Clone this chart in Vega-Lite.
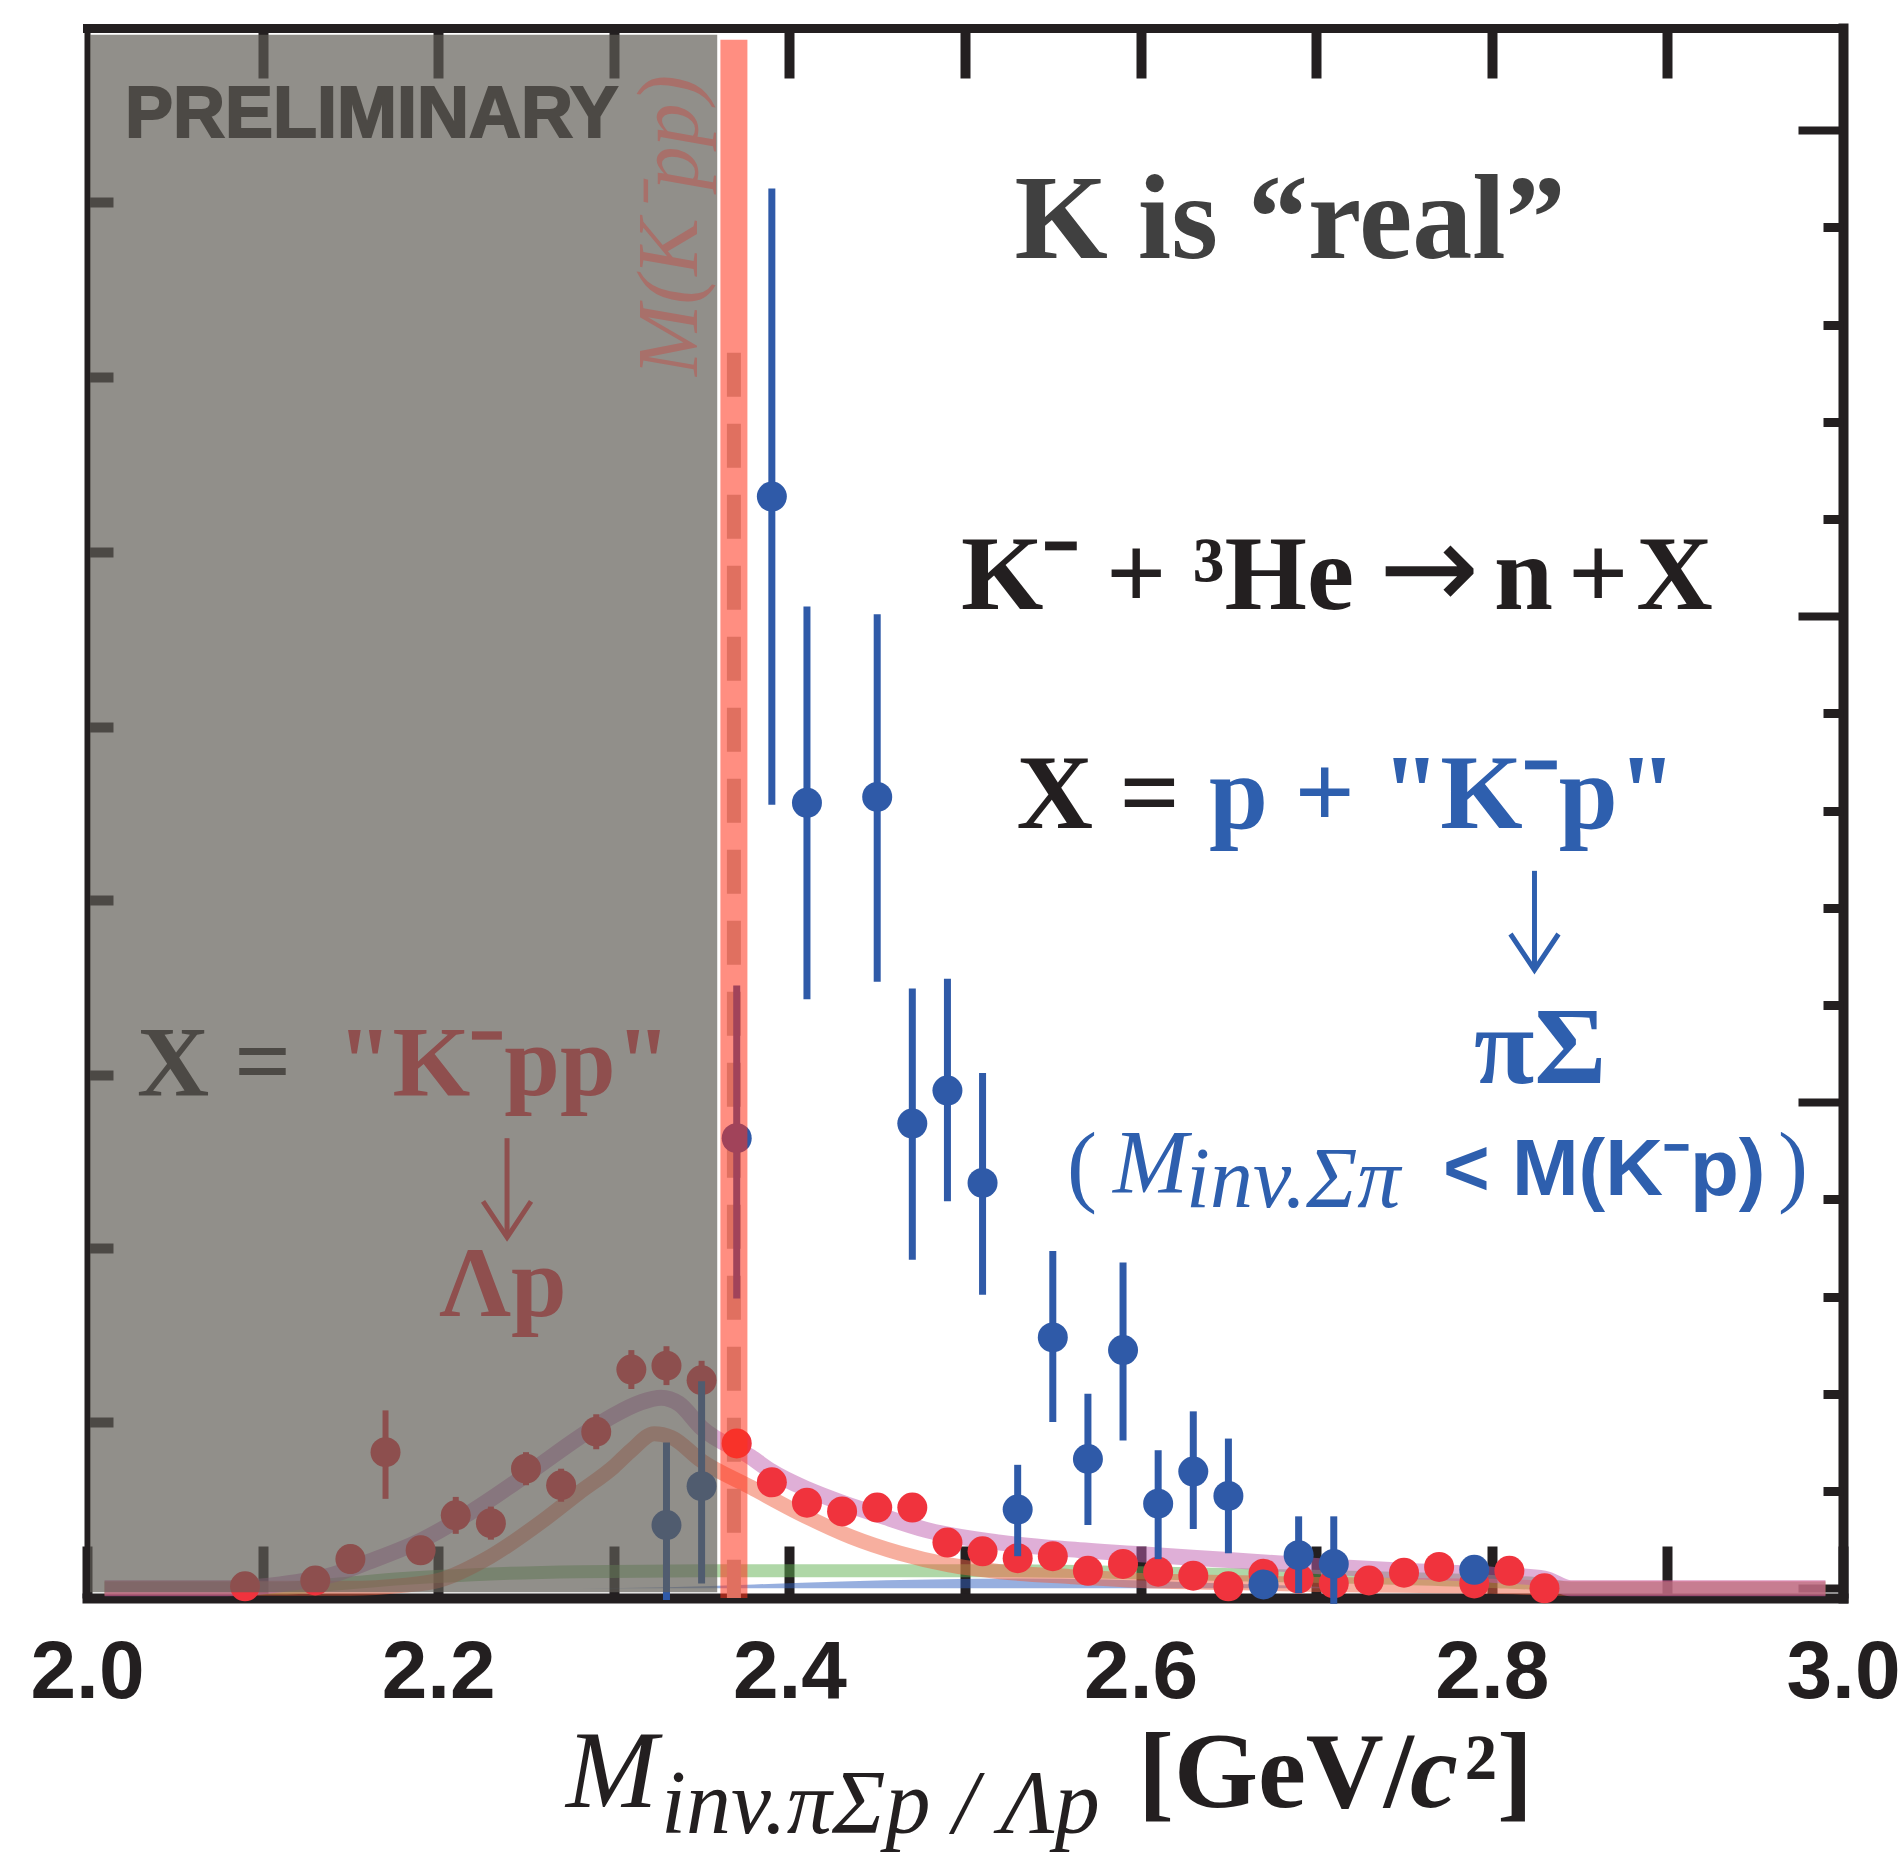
{
  "$schema": "https://vega.github.io/schema/vega-lite/v6.json",
  "width": 1756,
  "height": 1570,
  "autosize": {"type": "none"},
  "padding": {"left": 87, "top": 28, "right": 59, "bottom": 258},
  "background": "white",
  "config": {"view": {"stroke": null}},
  "resolve": {"axis": {"x": "independent", "y": "independent"}},
  "datasets": {
    "blue": [
      {"m": 2.33, "n": 0.65, "lo": -0.12, "hi": 1.5},
      {"m": 2.35, "n": 1.05, "lo": 0.05, "hi": 2.13},
      {"m": 2.37, "n": 4.63, "lo": 2.98, "hi": 6.2},
      {"m": 2.39, "n": 11.23, "lo": 8.06, "hi": 14.4},
      {"m": 2.41, "n": 8.08, "lo": 6.06, "hi": 10.1},
      {"m": 2.45, "n": 8.14, "lo": 6.24, "hi": 10.02},
      {"m": 2.47, "n": 4.78, "lo": 3.38, "hi": 6.17},
      {"m": 2.49, "n": 5.12, "lo": 3.98, "hi": 6.27},
      {"m": 2.51, "n": 4.17, "lo": 3.02, "hi": 5.3},
      {"m": 2.53, "n": 0.81, "lo": 0.33, "hi": 1.27},
      {"m": 2.55, "n": 2.58, "lo": 1.71, "hi": 3.47},
      {"m": 2.57, "n": 1.33, "lo": 0.65, "hi": 2.0},
      {"m": 2.59, "n": 2.45, "lo": 1.52, "hi": 3.35},
      {"m": 2.61, "n": 0.87, "lo": 0.3, "hi": 1.42},
      {"m": 2.63, "n": 1.2, "lo": 0.61, "hi": 1.82},
      {"m": 2.65, "n": 0.95, "lo": 0.36, "hi": 1.54},
      {"m": 2.67, "n": 0.04, "lo": 0.0, "hi": 0.1},
      {"m": 2.69, "n": 0.34, "lo": -0.05, "hi": 0.74},
      {"m": 2.71, "n": 0.25, "lo": -0.16, "hi": 0.74},
      {"m": 2.79, "n": 0.19, "lo": 0.1, "hi": 0.28}
    ],
    "red": [
      {"m": 2.09, "n": 0.02, "lo": -0.1, "hi": 0.14},
      {"m": 2.13, "n": 0.08, "lo": -0.06, "hi": 0.2},
      {"m": 2.15, "n": 0.3, "lo": 0.15, "hi": 0.45},
      {"m": 2.17, "n": 1.4, "lo": 0.92, "hi": 1.83},
      {"m": 2.19, "n": 0.39, "lo": 0.24, "hi": 0.54},
      {"m": 2.21, "n": 0.75, "lo": 0.56, "hi": 0.94},
      {"m": 2.23, "n": 0.67, "lo": 0.5, "hi": 0.84},
      {"m": 2.25, "n": 1.23, "lo": 1.06, "hi": 1.4},
      {"m": 2.27, "n": 1.06, "lo": 0.89, "hi": 1.23},
      {"m": 2.29, "n": 1.61, "lo": 1.43, "hi": 1.79},
      {"m": 2.31, "n": 2.25, "lo": 2.05, "hi": 2.45},
      {"m": 2.33, "n": 2.29, "lo": 2.09, "hi": 2.49},
      {"m": 2.35, "n": 2.14, "lo": 1.94, "hi": 2.34},
      {"m": 2.37, "n": 1.49, "lo": 1.39, "hi": 1.59},
      {"m": 2.39, "n": 1.09, "lo": 0.99, "hi": 1.19},
      {"m": 2.41, "n": 0.88, "lo": 0.78, "hi": 0.98},
      {"m": 2.43, "n": 0.79, "lo": 0.7, "hi": 0.88},
      {"m": 2.45, "n": 0.83, "lo": 0.74, "hi": 0.92},
      {"m": 2.47, "n": 0.83, "lo": 0.74, "hi": 0.92},
      {"m": 2.49, "n": 0.47, "lo": 0.39, "hi": 0.55},
      {"m": 2.51, "n": 0.38, "lo": 0.3, "hi": 0.46},
      {"m": 2.53, "n": 0.31, "lo": 0.23, "hi": 0.39},
      {"m": 2.55, "n": 0.33, "lo": 0.25, "hi": 0.41},
      {"m": 2.57, "n": 0.18, "lo": 0.1, "hi": 0.26},
      {"m": 2.59, "n": 0.25, "lo": 0.17, "hi": 0.33},
      {"m": 2.61, "n": 0.17, "lo": 0.1, "hi": 0.24},
      {"m": 2.63, "n": 0.13, "lo": 0.06, "hi": 0.2},
      {"m": 2.65, "n": 0.02, "lo": -0.05, "hi": 0.09},
      {"m": 2.67, "n": 0.15, "lo": 0.08, "hi": 0.22},
      {"m": 2.69, "n": 0.1, "lo": 0.03, "hi": 0.17},
      {"m": 2.71, "n": 0.05, "lo": -0.02, "hi": 0.12},
      {"m": 2.73, "n": 0.08, "lo": 0.01, "hi": 0.15},
      {"m": 2.75, "n": 0.16, "lo": 0.09, "hi": 0.23},
      {"m": 2.77, "n": 0.22, "lo": 0.15, "hi": 0.29},
      {"m": 2.79, "n": 0.05, "lo": -0.02, "hi": 0.12},
      {"m": 2.81, "n": 0.18, "lo": 0.11, "hi": 0.25},
      {"m": 2.83, "n": 0.0, "lo": -0.07, "hi": 0.07}
    ],
    "pink": [
      {"m": 2.01, "n": 0}, {"m": 2.08, "n": 0}, {"m": 2.11, "n": 0.04}, {"m": 2.14, "n": 0.14},
      {"m": 2.16, "n": 0.27}, {"m": 2.19, "n": 0.49}, {"m": 2.22, "n": 0.8}, {"m": 2.255, "n": 1.23},
      {"m": 2.28, "n": 1.55}, {"m": 2.3, "n": 1.78}, {"m": 2.315, "n": 1.91}, {"m": 2.327, "n": 1.96},
      {"m": 2.337, "n": 1.9}, {"m": 2.35, "n": 1.65}, {"m": 2.378, "n": 1.35}, {"m": 2.39, "n": 1.2},
      {"m": 2.41, "n": 1.02}, {"m": 2.43, "n": 0.88}, {"m": 2.45, "n": 0.76}, {"m": 2.478, "n": 0.6},
      {"m": 2.52, "n": 0.47}, {"m": 2.56, "n": 0.4}, {"m": 2.6, "n": 0.35}, {"m": 2.65, "n": 0.29},
      {"m": 2.7, "n": 0.23}, {"m": 2.75, "n": 0.18}, {"m": 2.8, "n": 0.14}, {"m": 2.83, "n": 0.1},
      {"m": 2.845, "n": 0}, {"m": 2.99, "n": 0}
    ],
    "orange": [
      {"m": 2.01, "n": 0}, {"m": 2.15, "n": 0}, {"m": 2.18, "n": 0.03}, {"m": 2.2, "n": 0.08},
      {"m": 2.23, "n": 0.33}, {"m": 2.26, "n": 0.7}, {"m": 2.28, "n": 0.98}, {"m": 2.3, "n": 1.25},
      {"m": 2.31, "n": 1.42}, {"m": 2.323, "n": 1.59}, {"m": 2.333, "n": 1.55}, {"m": 2.35, "n": 1.31},
      {"m": 2.378, "n": 1.04}, {"m": 2.406, "n": 0.77}, {"m": 2.435, "n": 0.53}, {"m": 2.463, "n": 0.36},
      {"m": 2.491, "n": 0.24}, {"m": 2.52, "n": 0.17}, {"m": 2.56, "n": 0.12}, {"m": 2.6, "n": 0.08},
      {"m": 2.65, "n": 0.06}, {"m": 2.7, "n": 0.04}, {"m": 2.75, "n": 0.03}, {"m": 2.8, "n": 0.02},
      {"m": 2.845, "n": 0}, {"m": 2.99, "n": 0}
    ],
    "green": [
      {"m": 2.01, "n": 0}, {"m": 2.11, "n": 0}, {"m": 2.14, "n": 0.04}, {"m": 2.18, "n": 0.1},
      {"m": 2.22, "n": 0.14}, {"m": 2.28, "n": 0.17}, {"m": 2.35, "n": 0.18}, {"m": 2.45, "n": 0.18},
      {"m": 2.52, "n": 0.18}, {"m": 2.6, "n": 0.16}, {"m": 2.68, "n": 0.13}, {"m": 2.75, "n": 0.1},
      {"m": 2.8, "n": 0.07}, {"m": 2.83, "n": 0.04}, {"m": 2.845, "n": 0}, {"m": 2.99, "n": 0}
    ],
    "bluefit": [
      {"m": 2.28, "n": 0}, {"m": 2.33, "n": 0.01}, {"m": 2.38, "n": 0.04}, {"m": 2.43, "n": 0.07},
      {"m": 2.48, "n": 0.09}, {"m": 2.53, "n": 0.1}, {"m": 2.58, "n": 0.09}, {"m": 2.63, "n": 0.06},
      {"m": 2.68, "n": 0.03}, {"m": 2.72, "n": 0}
    ]
  },
  "layer": [
    {
      "data": {"name": "bluefit"},
      "mark": {"type": "area", "color": "#3060c0", "opacity": 0.5, "interpolate": "monotone"},
      "encoding": {
        "x": {"field": "m", "type": "quantitative", "axis": null, "scale": {"domain": [2, 3], "nice": false, "zero": false}},
        "y": {"field": "n", "type": "quantitative", "axis": null, "scale": {"domain": [-0.1, 16.05], "nice": false, "zero": false}},
        "y2": {"datum": 0}
      }
    },
    {
      "data": {"name": "green"},
      "mark": {"type": "line", "color": "#60b050", "strokeWidth": 13, "opacity": 0.5, "interpolate": "monotone", "strokeCap": "butt"},
      "encoding": {
        "x": {"field": "m", "type": "quantitative", "axis": null},
        "y": {"field": "n", "type": "quantitative", "axis": null}
      }
    },
    {
      "data": {"name": "orange"},
      "mark": {"type": "line", "color": "#f06040", "strokeWidth": 15, "opacity": 0.5, "interpolate": "monotone", "strokeCap": "butt"},
      "encoding": {
        "x": {"field": "m", "type": "quantitative", "axis": null},
        "y": {"field": "n", "type": "quantitative", "axis": null}
      }
    },
    {
      "data": {"name": "pink"},
      "mark": {"type": "line", "color": "#c060b0", "strokeWidth": 16, "opacity": 0.5, "interpolate": "monotone", "strokeCap": "butt"},
      "encoding": {
        "x": {"field": "m", "type": "quantitative", "axis": null},
        "y": {"field": "n", "type": "quantitative", "axis": null}
      }
    },
    {
      "data": {"values": [{}]},
      "mark": {"type": "rule", "color": "#bbbcb7", "strokeWidth": 14, "strokeDash": [44, 27], "strokeCap": "butt"},
      "encoding": {
        "x": {"datum": 2.3684, "type": "quantitative", "axis": null},
        "y": {"datum": 12.71, "type": "quantitative", "axis": null},
        "y2": {"datum": -0.1}
      }
    },
    {
      "data": {"name": "red"},
      "mark": {"type": "rule", "color": "#f0333d", "strokeWidth": 6},
      "encoding": {
        "x": {"field": "m", "type": "quantitative", "axis": null},
        "y": {"field": "lo", "type": "quantitative", "axis": null},
        "y2": {"field": "hi"}
      }
    },
    {
      "data": {"name": "red"},
      "mark": {"type": "circle", "color": "#f0333d", "size": 900, "opacity": 1},
      "encoding": {
        "x": {"field": "m", "type": "quantitative", "axis": null},
        "y": {"field": "n", "type": "quantitative", "axis": {"orient": "left", "values": [1.71, 3.5, 5.28, 7.08, 8.86, 10.66, 12.46, 14.26], "labels": false, "grid": false, "title": null, "tickSize": -26, "tickWidth": 10, "tickColor": "#231f20", "domainWidth": 6, "domainColor": "#231f20", "domainCap": "square"}}
      }
    },
    {
      "data": {"name": "blue"},
      "mark": {"type": "rule", "color": "#2f5aa8", "strokeWidth": 7},
      "encoding": {
        "x": {"field": "m", "type": "quantitative", "scale": {"domain": [2, 3], "nice": false, "zero": false},
              "axis": {"orient": "bottom", "values": [2.0, 2.1, 2.2, 2.3, 2.4, 2.5, 2.6, 2.7, 2.8, 2.9, 3.0],
                       "labelExpr": "round(datum.value*10) % 2 == 0 ? format(datum.value, '.1f') : ''",
                       "tickSize": -52, "tickWidth": 10, "tickColor": "#231f20",
                       "domainWidth": 10, "domainColor": "#231f20", "domainCap": "square",
                       "labelFont": "Liberation Sans", "labelFontWeight": "bold", "labelFontSize": 82, "labelColor": "#231f20",
                       "labelPadding": 86, "labelFlush": false, "labelOverlap": false, "labelBound": false,
                       "grid": false, "title": null}},
        "y": {"field": "lo", "type": "quantitative", "scale": {"domain": [-0.1, 16.05], "nice": false, "zero": false},
              "axis": {"orient": "right", "values": [0, 5, 10, 15], "labels": false, "grid": false, "title": null, "tickSize": -45, "tickWidth": 8, "tickColor": "#231f20", "domainWidth": 10, "domainColor": "#231f20", "domainCap": "square"}},
        "y2": {"field": "hi"}
      }
    },
    {
      "data": {"name": "blue"},
      "mark": {"type": "circle", "color": "#2f5aa8", "size": 900, "opacity": 1},
      "encoding": {
        "x": {"field": "m", "type": "quantitative",
              "axis": {"orient": "top", "values": [2.1, 2.2, 2.3, 2.4, 2.5, 2.6, 2.7, 2.8, 2.9], "labels": false, "grid": false, "title": null, "tickSize": -50, "tickWidth": 10, "tickColor": "#231f20", "domainWidth": 9, "domainColor": "#231f20", "domainCap": "square"}},
        "y": {"field": "n", "type": "quantitative",
              "axis": {"orient": "right", "values": [1, 2, 3, 4, 6, 7, 8, 9, 11, 12, 13, 14], "labels": false, "grid": false, "title": null, "tickSize": -20, "tickWidth": 9, "tickColor": "#231f20", "domain": false}}
      }
    },
    {
      "data": {"values": [{}]},
      "mark": {"type": "text", "text": "PRELIMINARY", "font": "Liberation Sans", "fontWeight": "bold", "fontSize": 72, "color": "#231f20", "stroke": "#231f20", "strokeWidth": 2, "align": "left", "baseline": "alphabetic"},
      "encoding": {"x": {"datum": 2.0216, "type": "quantitative", "axis": null}, "y": {"datum": 14.93, "type": "quantitative", "axis": null}}
    },
    {
      "data": {"values": [{}]},
      "mark": {"type": "text", "text": "X =", "font": "Liberation Serif", "fontWeight": "bold", "fontSize": 100, "color": "#231f20", "align": "left", "baseline": "alphabetic"},
      "encoding": {"x": {"datum": 2.0285, "type": "quantitative", "axis": null}, "y": {"datum": 5.07, "type": "quantitative", "axis": null}}
    },
    {
      "data": {"values": [{}]},
      "mark": {"type": "text", "text": "\"K⁻pp\"", "font": "Liberation Serif", "fontWeight": "bold", "fontSize": 100, "color": "#f8303f", "align": "left", "baseline": "alphabetic"},
      "encoding": {"x": {"datum": 2.1424, "type": "quantitative", "axis": null}, "y": {"datum": 5.07, "type": "quantitative", "axis": null}}
    },
    {
      "data": {"values": [{}]},
      "mark": {"type": "rule", "color": "#f8303f", "strokeWidth": 5},
      "encoding": {"x": {"datum": 2.2392, "type": "quantitative", "axis": null}, "y": {"datum": 4.63, "type": "quantitative", "axis": null}, "y2": {"datum": 3.64}}
    },
    {
      "data": {"values": [{}]},
      "mark": {"type": "point", "shape": "M-1,-1.5L0,0L1,-1.5", "size": 2304, "filled": false, "strokeWidth": 5, "color": "#f8303f", "opacity": 1, "strokeJoin": "miter"},
      "encoding": {"x": {"datum": 2.2392, "type": "quantitative", "axis": null}, "y": {"datum": 3.61, "type": "quantitative", "axis": null}}
    },
    {
      "data": {"values": [{}]},
      "mark": {"type": "text", "text": "Λp", "font": "Liberation Serif", "fontWeight": "bold", "fontSize": 100, "color": "#f8303f", "align": "center", "baseline": "alphabetic"},
      "encoding": {"x": {"datum": 2.2369, "type": "quantitative", "axis": null}, "y": {"datum": 2.8, "type": "quantitative", "axis": null}}
    },
    {
      "data": {"values": [{}]},
      "mark": {"type": "rect", "color": "#5f5d56", "opacity": 0.69},
      "encoding": {
        "x": {"datum": 2.0017, "type": "quantitative", "axis": null}, "x2": {"datum": 2.3589},
        "y": {"datum": -0.04, "type": "quantitative", "axis": null}, "y2": {"datum": 15.98}
      }
    },
    {
      "data": {"values": [{}]},
      "mark": {"type": "rule", "color": "#ff3219", "opacity": 0.55, "strokeWidth": 27, "strokeCap": "butt"},
      "encoding": {
        "x": {"datum": 2.3684, "type": "quantitative", "axis": null},
        "y": {"datum": 15.93, "type": "quantitative", "axis": null}, "y2": {"datum": -0.1}
      }
    },
    {
      "data": {"values": [{}]},
      "mark": {"type": "text", "text": "M(K⁻pp)", "font": "Liberation Serif", "fontStyle": "italic", "fontSize": 86, "color": "#a8706a", "align": "left", "baseline": "alphabetic", "angle": 270},
      "encoding": {"x": {"datum": 2.3474, "type": "quantitative", "axis": null}, "y": {"datum": 12.47, "type": "quantitative", "axis": null}}
    },
    {
      "data": {"values": [{}]},
      "mark": {"type": "text", "text": "K is “real”", "font": "Liberation Serif", "fontWeight": "bold", "fontSize": 120, "color": "#404040", "align": "center", "baseline": "alphabetic"},
      "encoding": {"x": {"datum": 2.6851, "type": "quantitative", "axis": null}, "y": {"datum": 13.68, "type": "quantitative", "axis": null}}
    },
    {
      "data": {"values": [{}]},
      "mark": {"type": "text", "text": "K⁻ + ³He", "font": "Liberation Serif", "fontWeight": "bold", "fontSize": 106, "color": "#231f20", "align": "left", "baseline": "alphabetic"},
      "encoding": {"x": {"datum": 2.4977, "type": "quantitative", "axis": null}, "y": {"datum": 10.07, "type": "quantitative", "axis": null}}
    },
    {
      "data": {"values": [{}]},
      "mark": {"type": "text", "text": "→", "font": "DejaVu Sans", "fontSize": 120, "color": "#231f20", "align": "center", "baseline": "alphabetic"},
      "encoding": {"x": {"datum": 2.7642, "type": "quantitative", "axis": null}, "y": {"datum": 10.07, "type": "quantitative", "axis": null}}
    },
    {
      "data": {"values": [{}]},
      "mark": {"type": "text", "text": "n", "font": "Liberation Serif", "fontWeight": "bold", "fontSize": 106, "color": "#231f20", "align": "left", "baseline": "alphabetic"},
      "encoding": {"x": {"datum": 2.8012, "type": "quantitative", "axis": null}, "y": {"datum": 10.07, "type": "quantitative", "axis": null}}
    },
    {
      "data": {"values": [{}]},
      "mark": {"type": "text", "text": "+", "font": "Liberation Serif", "fontWeight": "bold", "fontSize": 106, "color": "#231f20", "align": "left", "baseline": "alphabetic"},
      "encoding": {"x": {"datum": 2.8434, "type": "quantitative", "axis": null}, "y": {"datum": 10.07, "type": "quantitative", "axis": null}}
    },
    {
      "data": {"values": [{}]},
      "mark": {"type": "text", "text": "X", "font": "Liberation Serif", "fontWeight": "bold", "fontSize": 106, "color": "#231f20", "align": "right", "baseline": "alphabetic"},
      "encoding": {"x": {"datum": 2.9259, "type": "quantitative", "axis": null}, "y": {"datum": 10.07, "type": "quantitative", "axis": null}}
    },
    {
      "data": {"values": [{}]},
      "mark": {"type": "text", "text": "X =", "font": "Liberation Serif", "fontWeight": "bold", "fontSize": 106, "color": "#231f20", "align": "left", "baseline": "alphabetic"},
      "encoding": {"x": {"datum": 2.5293, "type": "quantitative", "axis": null}, "y": {"datum": 7.82, "type": "quantitative", "axis": null}}
    },
    {
      "data": {"values": [{}]},
      "mark": {"type": "text", "text": "p + \"K⁻p\"", "font": "Liberation Serif", "fontWeight": "bold", "fontSize": 106, "color": "#2e5fae", "align": "left", "baseline": "alphabetic"},
      "encoding": {"x": {"datum": 2.639, "type": "quantitative", "axis": null}, "y": {"datum": 7.82, "type": "quantitative", "axis": null}}
    },
    {
      "data": {"values": [{}]},
      "mark": {"type": "rule", "color": "#2e5fae", "strokeWidth": 5},
      "encoding": {"x": {"datum": 2.8243, "type": "quantitative", "axis": null}, "y": {"datum": 7.38, "type": "quantitative", "axis": null}, "y2": {"datum": 6.39}}
    },
    {
      "data": {"values": [{}]},
      "mark": {"type": "point", "shape": "M-1,-1.5L0,0L1,-1.5", "size": 2304, "filled": false, "strokeWidth": 5, "color": "#2e5fae", "opacity": 1, "strokeJoin": "miter"},
      "encoding": {"x": {"datum": 2.8243, "type": "quantitative", "axis": null}, "y": {"datum": 6.36, "type": "quantitative", "axis": null}}
    },
    {
      "data": {"values": [{}]},
      "mark": {"type": "text", "text": "πΣ", "font": "Liberation Serif", "fontWeight": "bold", "fontSize": 110, "color": "#2e5fae", "align": "center", "baseline": "alphabetic"},
      "encoding": {"x": {"datum": 2.8275, "type": "quantitative", "axis": null}, "y": {"datum": 5.2, "type": "quantitative", "axis": null}}
    },
    {
      "data": {"values": [{}]},
      "mark": {"type": "text", "text": "(", "font": "Liberation Serif", "fontSize": 90, "color": "#2e5fae", "align": "left", "baseline": "alphabetic"},
      "encoding": {"x": {"datum": 2.5581, "type": "quantitative", "axis": null}, "y": {"datum": 4.05, "type": "quantitative", "axis": null}}
    },
    {
      "data": {"values": [{}]},
      "mark": {"type": "text", "text": "M", "font": "Liberation Serif", "fontStyle": "italic", "fontSize": 90, "color": "#2e5fae", "align": "left", "baseline": "alphabetic"},
      "encoding": {"x": {"datum": 2.5843, "type": "quantitative", "axis": null}, "y": {"datum": 4.07, "type": "quantitative", "axis": null}}
    },
    {
      "data": {"values": [{}]},
      "mark": {"type": "text", "text": "inv.Σπ", "font": "Liberation Serif", "fontStyle": "italic", "fontSize": 86, "color": "#2e5fae", "align": "left", "baseline": "alphabetic"},
      "encoding": {"x": {"datum": 2.6259, "type": "quantitative", "axis": null}, "y": {"datum": 3.92, "type": "quantitative", "axis": null}}
    },
    {
      "data": {"values": [{}]},
      "mark": {"type": "text", "text": "< M(K⁻p)", "font": "Liberation Sans", "fontWeight": "bold", "fontSize": 80, "color": "#2e5fae", "align": "left", "baseline": "alphabetic"},
      "encoding": {"x": {"datum": 2.7722, "type": "quantitative", "axis": null}, "y": {"datum": 4.05, "type": "quantitative", "axis": null}}
    },
    {
      "data": {"values": [{}]},
      "mark": {"type": "text", "text": ")", "font": "Liberation Serif", "fontSize": 90, "color": "#2e5fae", "align": "left", "baseline": "alphabetic"},
      "encoding": {"x": {"datum": 2.963, "type": "quantitative", "axis": null}, "y": {"datum": 4.05, "type": "quantitative", "axis": null}}
    },
    {
      "data": {"values": [{}]},
      "mark": {"type": "text", "text": "M", "font": "Liberation Serif", "fontStyle": "italic", "fontSize": 110, "color": "#231f20", "align": "left", "baseline": "alphabetic"},
      "encoding": {"x": {"datum": 2.2728, "type": "quantitative", "axis": null}, "y": {"datum": -2.25, "type": "quantitative", "axis": null}}
    },
    {
      "data": {"values": [{}]},
      "mark": {"type": "text", "text": "inv.πΣp / Λp", "font": "Liberation Serif", "fontStyle": "italic", "fontSize": 90, "color": "#231f20", "align": "left", "baseline": "alphabetic"},
      "encoding": {"x": {"datum": 2.3269, "type": "quantitative", "axis": null}, "y": {"datum": -2.52, "type": "quantitative", "axis": null}}
    },
    {
      "data": {"values": [{}]},
      "mark": {"type": "text", "text": "[GeV/", "font": "Liberation Serif", "fontWeight": "bold", "fontSize": 108, "color": "#231f20", "align": "left", "baseline": "alphabetic"},
      "encoding": {"x": {"datum": 2.5985, "type": "quantitative", "axis": null}, "y": {"datum": -2.25, "type": "quantitative", "axis": null}}
    },
    {
      "data": {"values": [{}]},
      "mark": {"type": "text", "text": "c", "font": "Liberation Serif", "fontWeight": "bold", "fontStyle": "italic", "fontSize": 108, "color": "#231f20", "align": "left", "baseline": "alphabetic"},
      "encoding": {"x": {"datum": 2.7534, "type": "quantitative", "axis": null}, "y": {"datum": -2.25, "type": "quantitative", "axis": null}}
    },
    {
      "data": {"values": [{}]},
      "mark": {"type": "text", "text": "²]", "font": "Liberation Serif", "fontWeight": "bold", "fontSize": 108, "color": "#231f20", "align": "left", "baseline": "alphabetic"},
      "encoding": {"x": {"datum": 2.7845, "type": "quantitative", "axis": null}, "y": {"datum": -2.25, "type": "quantitative", "axis": null}}
    }
  ]
}
